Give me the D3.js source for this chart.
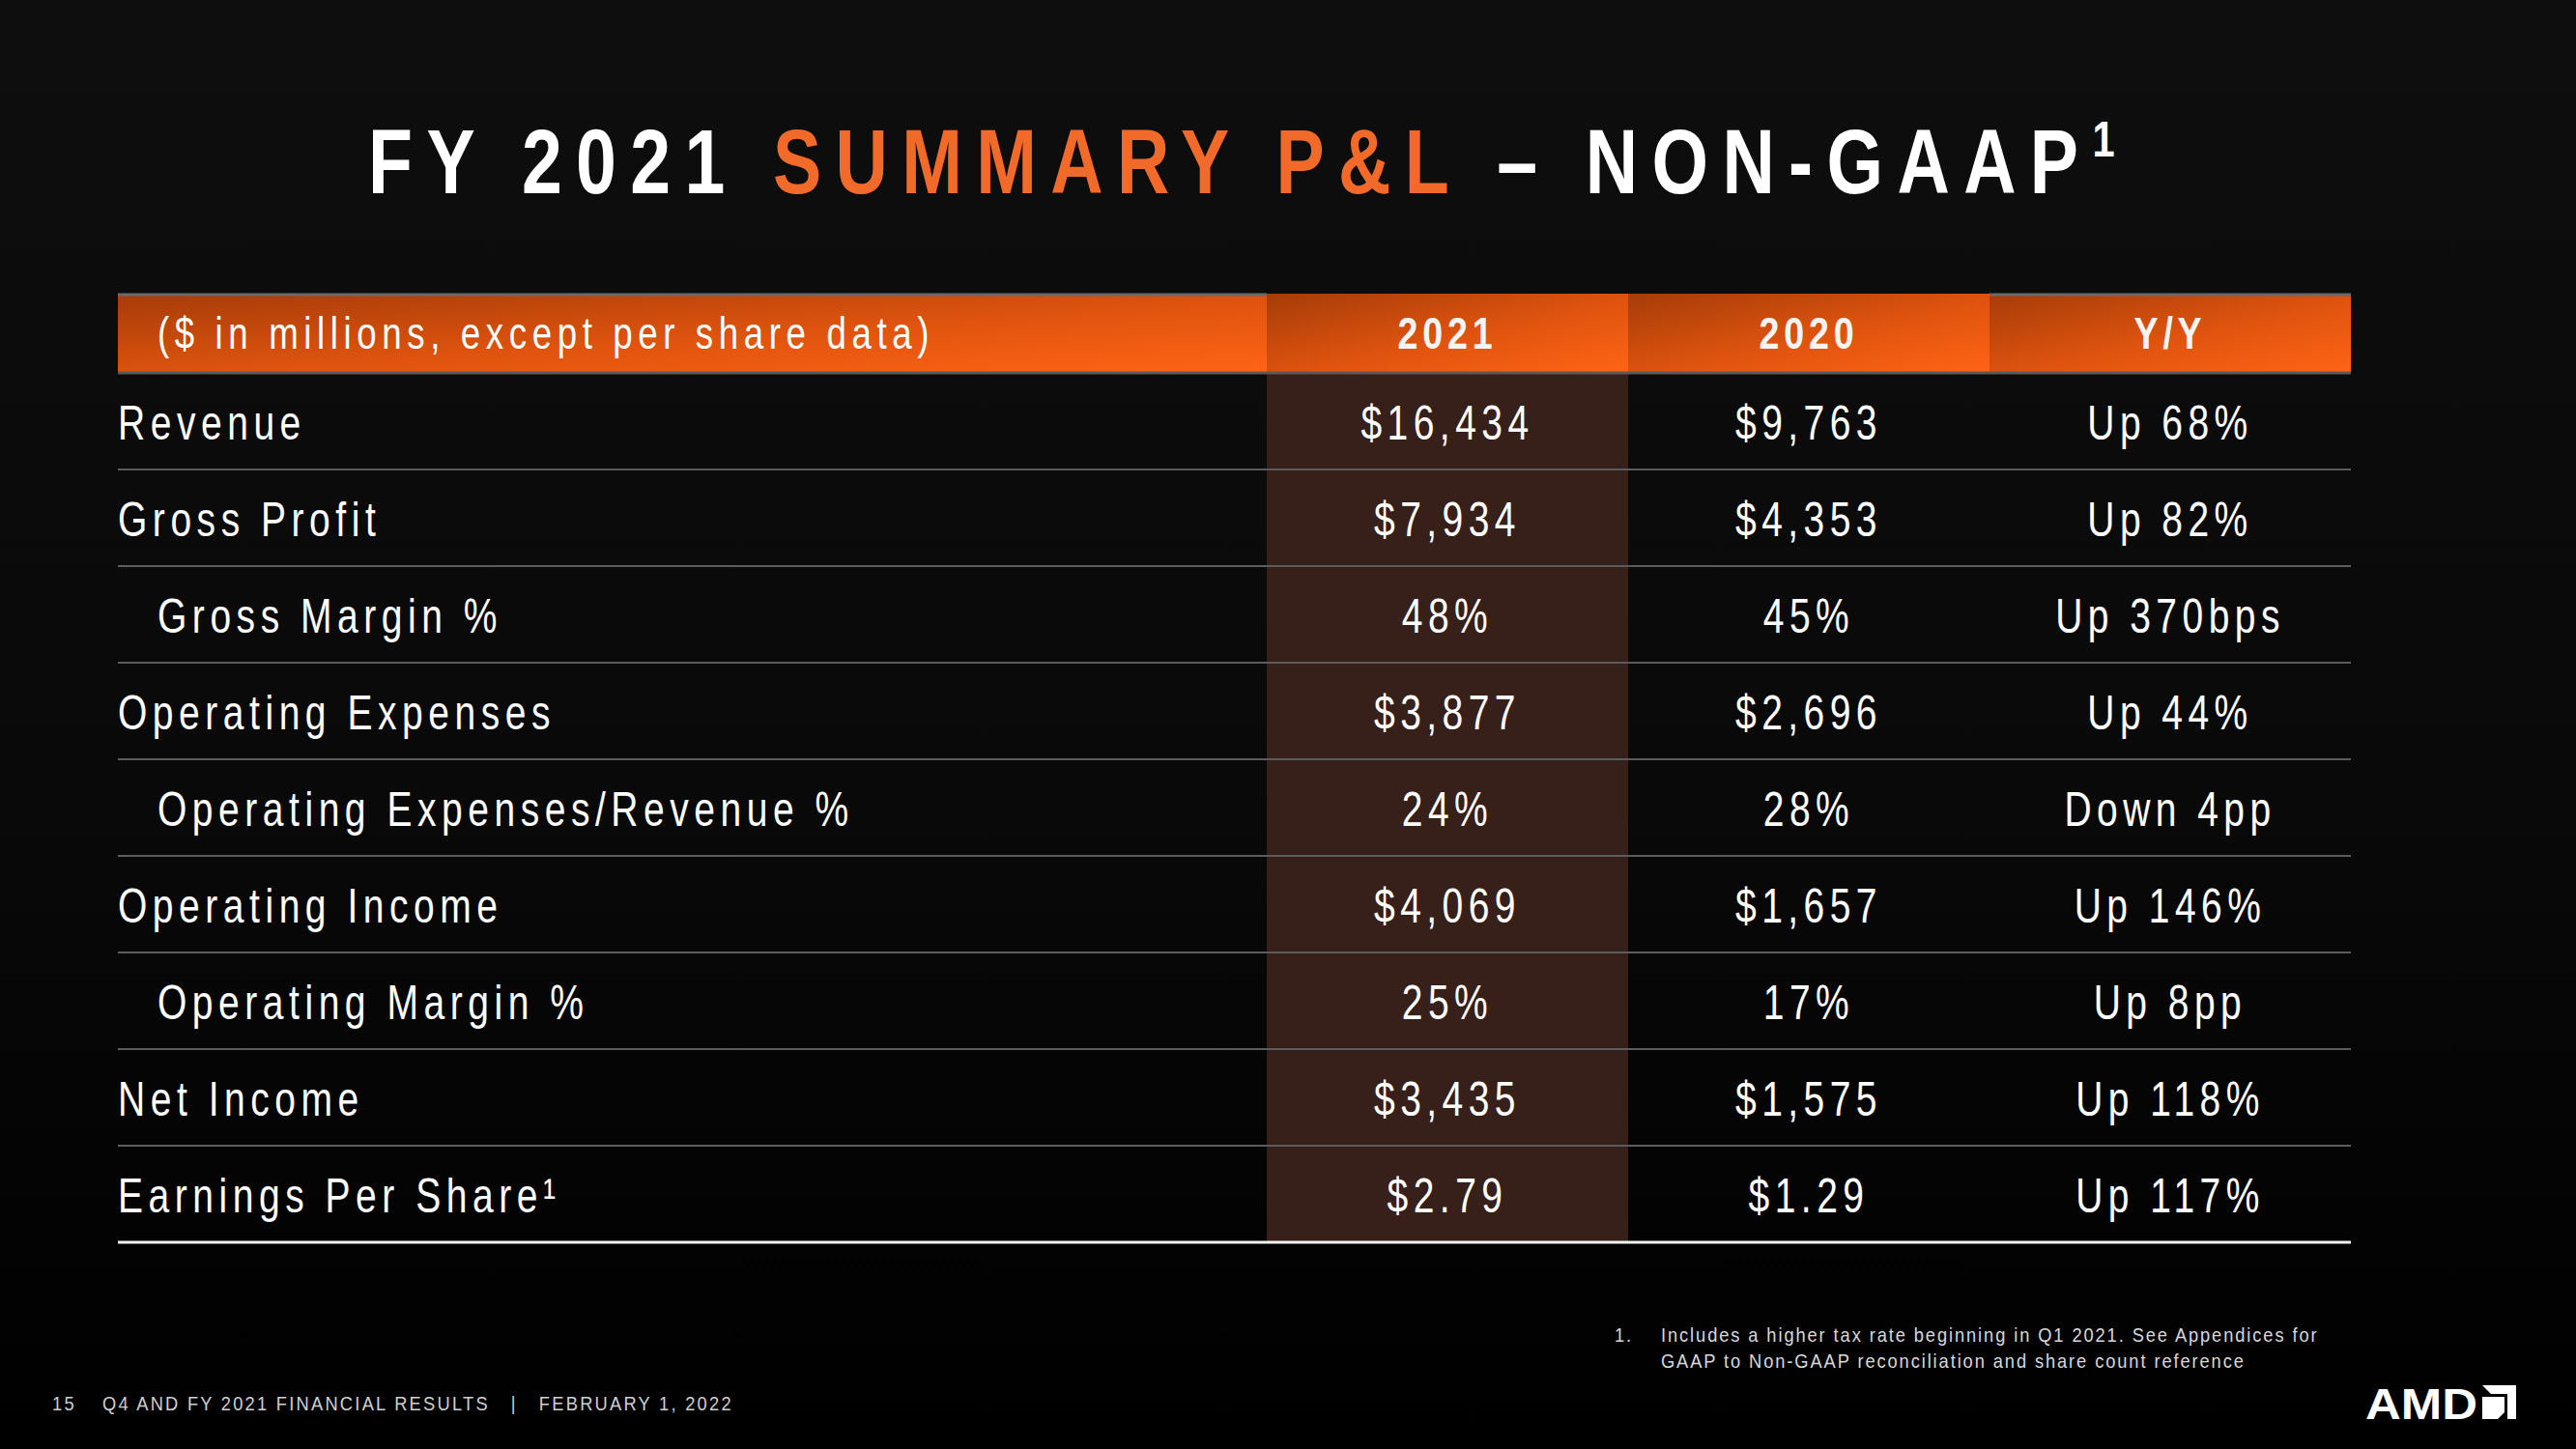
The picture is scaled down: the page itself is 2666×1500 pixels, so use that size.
<!DOCTYPE html>
<html>
<head>
<meta charset="utf-8">
<script src="https://cdn.jsdelivr.net/npm/d3@7"></script>
<style>
  html, body { margin: 0; padding: 0; background: #000; }
  svg { display: block; }
  text { font-family: "Liberation Sans", Arial, sans-serif; white-space: pre; }
</style>
</head>
<body>
<div id="slide"></div>
<script>
var svgWidth = 2666;
var svgHeight = 1500;

// table data
var headerLabel = "($ in millions, except per share data)";
var columns = ["2021", "2020", "Y/Y"];
var rowLabels = ["Revenue", "Gross Profit", "Gross Margin %", "Operating Expenses",
  "Operating Expenses/Revenue %", "Operating Income", "Operating Margin %",
  "Net Income", "Earnings Per Share\u00b9"];
var rowIndent = [false, false, true, false, true, false, true, false, false];
var values2021 = ["$16,434", "$7,934", "48%", "$3,877", "24%", "$4,069", "25%", "$3,435", "$2.79"];
var values2020 = ["$9,763", "$4,353", "45%", "$2,696", "28%", "$1,657", "17%", "$1,575", "$1.29"];
var valuesYoY = ["Up 68%", "Up 82%", "Up 370bps", "Up 44%", "Down 4pp", "Up 146%", "Up 8pp", "Up 118%", "Up 117%"];

var footnoteLines = ["Includes a higher tax rate beginning in Q1 2021. See Appendices for",
  "GAAP to Non-GAAP reconciliation and share count reference"];

var table = {left: 122, right: 2433, headTop: 304, headBottom: 386, bottom: 1286, firstColRight: 1311};

// the slide font is a narrow face, so squeeze the text horizontally
function place(x, y, sx) {
  return `translate(${x},${y}) scale(${sx},1)`;
}

var svg = d3.select("#slide")
  .append("svg")
  .attr("width", svgWidth)
  .attr("height", svgHeight);

var defs = svg.append("defs");

var bg = defs.append("linearGradient").attr("id", "bg")
  .attr("x1", 0).attr("y1", 0).attr("x2", 0).attr("y2", 1);
bg.append("stop").attr("offset", "0%").attr("stop-color", "#0e0e0e");
bg.append("stop").attr("offset", "55%").attr("stop-color", "#090909");
bg.append("stop").attr("offset", "100%").attr("stop-color", "#000");

var head = defs.append("linearGradient").attr("id", "head")
  .attr("x1", 0).attr("y1", 0).attr("x2", 1).attr("y2", 1);
head.append("stop").attr("offset", "0%").attr("stop-color", "#a63c08");
head.append("stop").attr("offset", "55%").attr("stop-color", "#e0540f");
head.append("stop").attr("offset", "100%").attr("stop-color", "#ff6416");

svg.append("rect")
  .attr("width", svgWidth)
  .attr("height", svgHeight)
  .attr("fill", "url(#bg)");

// Title
var title = svg.append("text")
  .attr("transform", place(1292, 200, 0.8))
  .attr("text-anchor", "middle")
  .attr("font-size", 94)
  .attr("font-weight", "bold")
  .attr("letter-spacing", 18)
  .attr("fill", "#fff");
title.append("tspan").text("FY 2021 ");
title.append("tspan").attr("fill", "#f26a2a").text("SUMMARY P&L");
title.append("tspan").text(" \u2013 NON-GAAP");
title.append("tspan").attr("font-size", 52).attr("dy", -38).text("1");

// scales
var y = d3.scaleBand()
  .domain(d3.range(rowLabels.length))
  .range([table.headBottom, table.bottom]);

var x = d3.scaleBand()
  .domain(columns)
  .range([table.firstColRight, table.right]);

// highlighted 2021 column
svg.append("rect")
  .attr("x", x("2021"))
  .attr("y", table.headBottom)
  .attr("width", x.bandwidth())
  .attr("height", table.bottom - table.headBottom)
  .attr("fill", "#37201a");

// header cells
var headCells = [{key: "label", x0: table.left, x1: table.firstColRight}]
  .concat(columns.map(c => ({key: c, x0: x(c), x1: x(c) + x.bandwidth()})));

svg.append("g").selectAll("rect")
  .data(headCells)
  .enter()
  .append("rect")
  .attr("x", d => d.x0)
  .attr("y", table.headTop)
  .attr("width", d => d.x1 - d.x0)
  .attr("height", table.headBottom - table.headTop)
  .attr("fill", "url(#head)");

svg.append("line")
  .attr("x1", table.left).attr("x2", table.firstColRight)
  .attr("y1", table.headTop + 1).attr("y2", table.headTop + 1)
  .attr("stroke", "#6a6a6a").attr("stroke-width", 3);
svg.append("line")
  .attr("x1", x("Y/Y")).attr("x2", table.right)
  .attr("y1", table.headTop + 1).attr("y2", table.headTop + 1)
  .attr("stroke", "#6a6a6a").attr("stroke-width", 3);
svg.append("line")
  .attr("x1", table.left).attr("x2", table.right)
  .attr("y1", table.headBottom).attr("y2", table.headBottom)
  .attr("stroke", "#5a5a5a").attr("stroke-width", 3);

svg.append("text")
  .attr("transform", place(163, table.headTop + 57, 0.78))
  .attr("font-size", 47)
  .attr("letter-spacing", 7.2)
  .attr("fill", "#fff")
  .text(headerLabel);

svg.append("g").selectAll("text")
  .data(columns)
  .enter()
  .append("text")
  .attr("transform", d => place(x(d) + x.bandwidth() / 2, table.headTop + 57, 0.8))
  .attr("text-anchor", "middle")
  .attr("font-size", 47)
  .attr("font-weight", "bold")
  .attr("letter-spacing", 6)
  .attr("fill", "#f4f4f4")
  .text(d => d);

// row separators
svg.append("g").selectAll("line")
  .data(d3.range(rowLabels.length))
  .enter()
  .append("line")
  .attr("x1", table.left)
  .attr("x2", table.right)
  .attr("y1", d => y(d) + y.bandwidth())
  .attr("y2", d => y(d) + y.bandwidth())
  .attr("stroke", (d, i) => i === rowLabels.length - 1 ? "#f2f2f2" : "#5c5c5c")
  .attr("stroke-width", (d, i) => i === rowLabels.length - 1 ? 3 : 2);

// row labels
svg.append("g").selectAll("text")
  .data(rowLabels)
  .enter()
  .append("text")
  .attr("transform", (d, i) => place(rowIndent[i] ? 163 : 122, y(i) + 69, 0.78))
  .attr("font-size", 50)
  .attr("letter-spacing", 7.1)
  .attr("fill", "#fff")
  .text(d => d);

// values
var colValues = {"2021": values2021, "2020": values2020, "Y/Y": valuesYoY};
columns.forEach(function(c) {
  svg.append("g").selectAll("text")
    .data(colValues[c])
    .enter()
    .append("text")
    .attr("transform", (d, i) => place(x(c) + x.bandwidth() / 2, y(i) + 69, 0.78))
    .attr("text-anchor", "middle")
    .attr("font-size", 50)
    .attr("letter-spacing", 7)
    .attr("fill", "#fff")
    .text(d => d);
});

// footnote
svg.append("text")
  .attr("transform", place(1671, 1389, 0.87))
  .attr("font-size", 21).attr("letter-spacing", 2.2)
  .attr("fill", "#d8d8d8")
  .text("1.");
svg.append("g").selectAll("text")
  .data(footnoteLines)
  .enter()
  .append("text")
  .attr("transform", (d, i) => place(1719, 1389 + i * 27, 0.87))
  .attr("font-size", 21)
  .attr("letter-spacing", 2.2)
  .attr("fill", "#d8d8d8")
  .text(d => d);

// footer
svg.append("text")
  .attr("transform", place(54, 1460, 0.87))
  .attr("font-size", 21).attr("letter-spacing", 2.6)
  .attr("fill", "#cfcfcf")
  .text("15");
svg.append("text")
  .attr("transform", place(106, 1460, 0.87))
  .attr("font-size", 21).attr("letter-spacing", 2.6)
  .attr("fill", "#cfcfcf")
  .text("Q4 AND FY 2021 FINANCIAL RESULTS   |   FEBRUARY 1, 2022");

// AMD logo
var logo = svg.append("g").attr("transform", "translate(2448, 1436)");
logo.append("text")
  .attr("x", 0).attr("y", 33)
  .attr("font-size", 45)
  .attr("font-weight", "bold")
  .attr("textLength", 116)
  .attr("lengthAdjust", "spacingAndGlyphs")
  .attr("fill", "#fff")
  .text("AMD");
var mark = logo.append("g").attr("transform", "translate(121, -2)");
mark.append("path")
  .attr("d", "M0,0 H35 V35 H26 V9 H9 Z")
  .attr("fill", "#fff");
mark.append("path")
  .attr("d", "M0,12 H23 V28 L16,35 H0 Z")
  .attr("fill", "#fff");
</script>
</body>
</html>
